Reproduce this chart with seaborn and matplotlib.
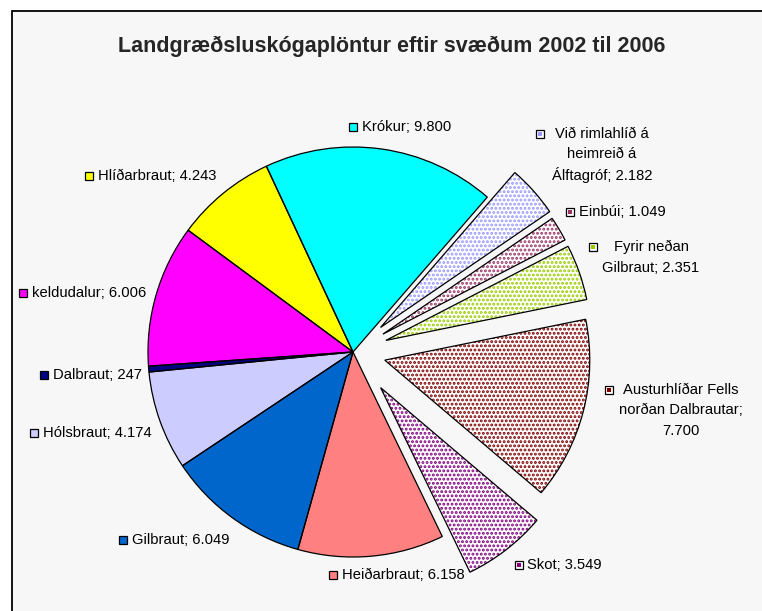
import matplotlib
matplotlib.use("Agg")
import matplotlib.pyplot as plt
import matplotlib.patches as mpatches
import seaborn as sns

sns.set_style("white")
plt.rcParams['font.family'] = ['Liberation Sans', 'DejaVu Sans']
plt.rcParams['hatch.linewidth'] = 1.4

# Slices in clockwise order, starting with Krókur
areas = ['Krókur', 'Við rimlahlíð á\nheimreið á\nÁlftagróf', 'Einbúi', 'Fyrir neðan\nGilbraut',
         'Austurhlíðar Fells\nnorðan Dalbrautar', 'Skot', 'Heiðarbraut', 'Gilbraut',
         'Hólsbraut', 'Dalbraut', 'keldudalur', 'Hlíðarbraut']
plants = [9800, 2182, 1049, 2351, 7700, 3549, 6158, 6049, 4174, 247, 6006, 4243]

# solid colour, or dot colour for the patterned (exploded) slices
colors = ['#00ffff', '#9999ff', '#993366', '#99cc00', '#800000', '#800080',
          '#ff8080', '#0066cc', '#ccccff', '#000080', '#ff00ff', '#ffff00']
dotted = [False, True, True, True, True, True, False, False, False, False, False, False]
explode = [0, 0.18, 0.17, 0.17, 0.16, 0.22, 0, 0, 0, 0, 0, 0]  # fraction of radius

H = 611  # figure height in px, labels below are given in px from the top
R = 205

# label layout: (key x, key y, text x, align)
label_layout = [
    (353, 127, 362, 'left'),
    (540, 134, 602, 'center'),
    (570, 212, 579, 'left'),
    (593, 247, 651, 'center'),
    (609, 390, 681, 'center'),
    (519, 565, 527, 'left'),
    (333, 575, 342, 'left'),
    (123, 540, 132, 'left'),
    (34, 433, 43, 'left'),
    (44, 375, 53, 'left'),
    (23, 293, 32, 'left'),
    (89, 176, 98, 'left'),
]

fig = plt.figure(figsize=(7.62, 6.11), dpi=100)
fig.patch.set_facecolor('white')
ax = fig.add_axes([0, 0, 1, 1])

# chart area frame
ax.add_patch(mpatches.Rectangle((12, -20), 800, H - 11 + 20, facecolor='#f7f7f7',
                                edgecolor='black', linewidth=1.3, zorder=0))

center = (353, H - 352)
offsets = [e * R for e in explode]
fill_colors = ['white' if d else c for c, d in zip(colors, dotted)]
wedges, _ = ax.pie(plants, explode=offsets, colors=fill_colors, startangle=115,
                   counterclock=False, center=center, radius=R,
                   wedgeprops=dict(linewidth=0))
for w, c, d in zip(wedges, colors, dotted):
    if d:
        w.set_hatch('....')
        w.set_edgecolor(c)
# outlines on top
ax.pie(plants, explode=offsets, startangle=115, counterclock=False, center=center,
       radius=R, wedgeprops=dict(fill=False, edgecolor='black', linewidth=0.9))

for name, val, c, d, (kx, ky, tx, ha) in zip(areas, plants, colors, dotted, label_layout):
    vtxt = f"{val:,}".replace(',', '.')
    if name.startswith('Austur'):
        text = name + ';\n' + vtxt
    else:
        text = name + '; ' + vtxt
    ax.plot(kx, H - ky, marker='s', markersize=5.8, markerfacecolor='white' if d else c,
            markeredgecolor='black', markeredgewidth=0.9, zorder=5)
    if d:
        ax.plot(kx, H - ky, marker='s', markersize=2.4, color=c, markeredgewidth=0, zorder=6)
    for i, line in enumerate(text.split('\n')):
        ax.text(tx, H - ky - i * 20.5, line, ha=ha, va='center', fontsize=10.6, color='black')

ax.text(392, H - 46, 'Landgræðsluskógaplöntur eftir svæðum 2002 til 2006',
        ha='center', va='center', fontsize=15.5, fontweight='bold')

ax.set_xlim(0, 762)
ax.set_ylim(0, H)
ax.set_aspect('auto')
ax.axis('off')

fig.savefig('out.png', dpi=100, facecolor='white')
